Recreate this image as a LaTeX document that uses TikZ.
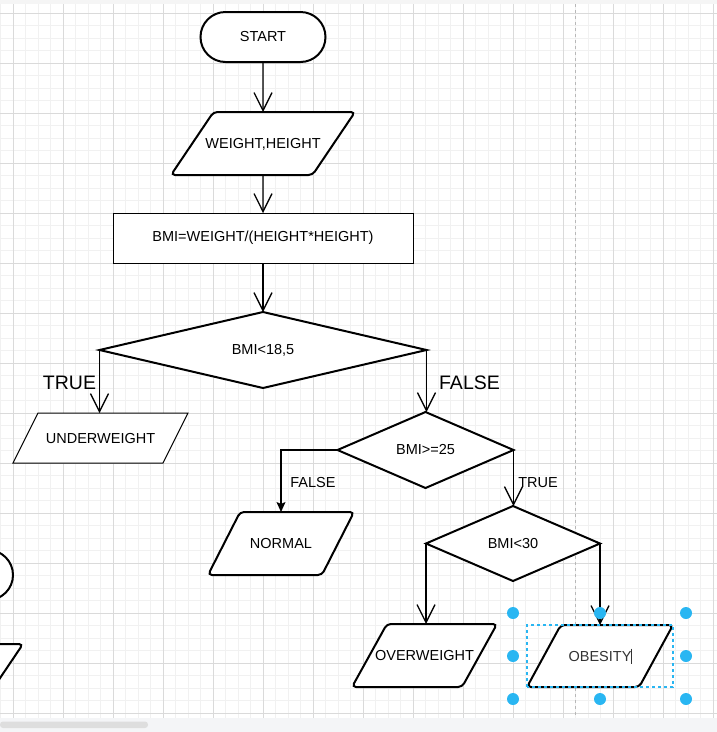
\documentclass[tikz,border=0pt]{standalone}
\usepackage{fontspec}
\setmainfont{Liberation Sans}
\usetikzlibrary{arrows.meta,shapes.geometric}
\definecolor{HandleBlue}{HTML}{29B6F2}
\definecolor{MinorGray}{HTML}{F1F1F1}
\definecolor{MajorGray}{HTML}{DADADA}
\definecolor{BarGray}{HTML}{F4F5F7}

\begin{document}
\begin{tikzpicture}[x=1pt, y=-1pt,
        font=\fontsize{14.5pt}{17pt}\selectfont,
        MyTerm/.style={draw, line width=2pt, fill=white, rounded corners=25pt, minimum width=125pt, minimum height=50pt, inner sep=0pt, outer sep=0pt},
        MyIO/.style={trapezium, trapezium stretches body, draw, line width=2pt, fill=white, rounded corners=4pt, inner xsep=0pt, inner ysep=26.25pt, text height=10.5pt, text depth=0pt, outer sep=0pt},
        MyProc/.style={draw, line width=1pt, fill=white, minimum width=300pt, minimum height=50pt, inner sep=0pt, outer sep=0pt},
        MyDec/.style={diamond, draw, line width=2pt, fill=white, inner sep=0pt, outer sep=0pt},
        MyLbl/.style={anchor=base, inner sep=0pt},
        ]
    \useasboundingbox (0,0) rectangle (717,732);
    \clip (0,0) rectangle (717,732);
    % canvas grid
    \foreach \i in {0,...,57} {
        \draw[MinorGray, line width=1pt] ({0.8+12.5*\i},4) -- ({0.8+12.5*\i},718);
        \draw[MinorGray, line width=1pt] (0,{0.8+12.5*\i}) -- (717,{0.8+12.5*\i});
    }
    \foreach \i in {0,...,14} {
        \draw[MajorGray, line width=1pt] ({13.3+50*\i},4) -- ({13.3+50*\i},718);
        \draw[MajorGray, line width=1pt] (0,{13.3+50*\i}) -- (717,{13.3+50*\i});
    }
    \draw[black!28, line width=1pt, dash pattern=on 3pt off 3pt] (575.5,4) -- (575.5,718);
    \fill[black!4] (0,0) rectangle (717,4);
    \fill[BarGray] (0,718) rectangle (717,732);
    \fill[black!13, rounded corners=3pt] (0,721.5) rectangle (148,728);

    \node [MyTerm] (0) at (263,37) {START};
    \node [MyIO, inner xsep=-10pt, trapezium left angle=56, trapezium right angle=124, minimum width=184pt] (1) at (263,143.5) {WEIGHT,HEIGHT};
    \node [MyProc] (2) at (263,238) {BMI=WEIGHT/(HEIGHT*HEIGHT)};
    \node [MyDec, minimum width=327pt, minimum height=76pt] (3) at (263,350) {BMI<18,5};
    \node [MyIO, line width=1pt, rounded corners=0pt, inner ysep=19.75pt, trapezium left angle=63.4, trapezium right angle=116.6, minimum width=175pt] (4) at (100.5,438) {UNDERWEIGHT};
    \node [MyDec, minimum width=176pt, minimum height=76pt] (5) at (425.5,450) {BMI>=25};
    \node [MyIO, trapezium left angle=63, trapezium right angle=117, minimum width=146pt] (6) at (281,543.5) {NORMAL};
    \node [MyDec, minimum width=174pt, minimum height=75pt] (7) at (513,543.5) {BMI<30};
    \node [MyIO, inner xsep=-12pt, trapezium left angle=61, trapezium right angle=119, minimum width=145pt] (8) at (424.5,655.5) {OVERWEIGHT};
    \node [MyIO, inner ysep=25.75pt, trapezium left angle=61.4, trapezium right angle=118.6, minimum width=146pt, text=black!80] (9) at (600,656) {OBESITY};
    % shapes cut off at the left edge
    \node [MyTerm] (14) at (-49.5,575) {};
    \node [MyIO, trapezium left angle=56, trapezium right angle=124, minimum width=184pt] (15) at (-69,675.5) {};

    \node [MyLbl, font=\fontsize{19.5pt}{22pt}\selectfont] (10) at (69.5,389) {TRUE};
    \node [MyLbl, font=\fontsize{19.5pt}{22pt}\selectfont] (11) at (469.5,389) {FALSE};
    \node [MyLbl] (12) at (313,487.5) {FALSE};
    \node [MyLbl] (13) at (538,487.5) {TRUE};

    \begin{scope}[line width=1.3pt, -{Straight Barb[length=18pt, width=18pt]}]
        \draw (0.south) -- (1.north);
        \draw (1.south) -- (2.north);
        \draw (2.south) -- (3.north);
        \draw (3.west) -- (3.west |- 4.north);
        \draw (3.east) -- (3.east |- 5.north);
        \draw (5.east) -- (5.east |- 7.north);
        \draw (7.west) -- (7.west |- 8.north);
        \draw (7.east) -- (7.east |- 9.north);
    \end{scope}
    \draw[line width=1.3pt, -{Stealth[length=10pt, width=9pt, inset=2pt]}] (5.west) -| (6.north);

    % editing state of the selected shape
    \draw[black!80, line width=1pt] ([xshift=31.5pt, yshift=7.5pt]9.center) -- ++(0,15);
    \draw[HandleBlue, line width=1.2pt, dash pattern=on 3pt off 3pt] (9.bottom left corner) rectangle (9.top right corner);
    \foreach \hx/\hy in {513/613, 600/613, 686/613, 513/656, 686/656, 513/699, 600/699, 686/699}
        \fill[HandleBlue] (\hx,\hy) circle[radius=6pt];
\end{tikzpicture}
\end{document}
